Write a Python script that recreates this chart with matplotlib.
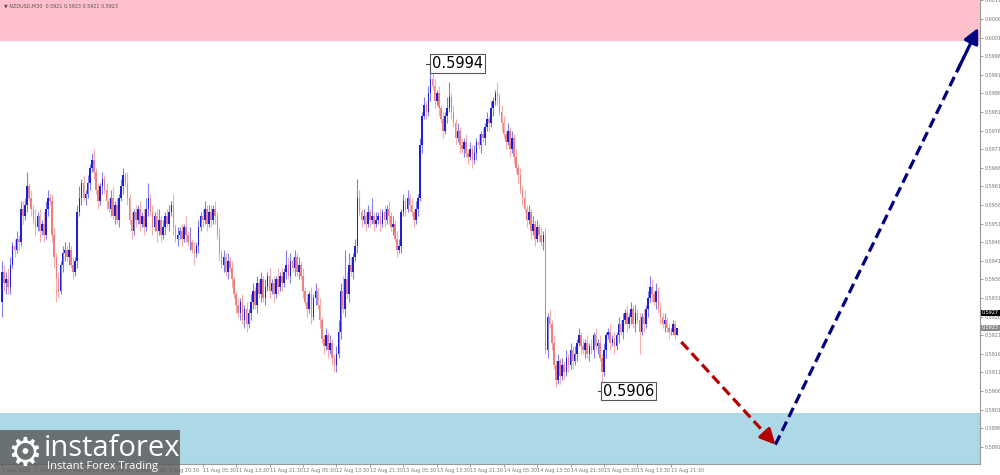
import matplotlib
matplotlib.use("Agg")
import matplotlib.pyplot as plt
from matplotlib.patches import Rectangle
from matplotlib.transforms import blended_transform_factory
import numpy as np

# ---------------- data (prices in pips above 0.5900) ----------------
first_open = 30
closes = [
    38, 35, 36, 34, 40, 45, 44, 47, 46, 55,
    53, 56, 61, 58, 55, 52, 50, 53, 49, 51,
    48, 55, 58, 57, 48, 42, 36, 33, 40, 43,
    44, 42, 44, 40, 38, 41, 54, 58, 62, 58,
    59, 62, 66, 68, 65, 60, 57, 61, 63, 60,
    57, 55, 58, 53, 56, 52, 58, 61, 64, 62,
    58, 52, 49, 54, 52, 55, 51, 53, 50, 55,
    58, 54, 50, 53, 49, 52, 48, 50, 53, 51,
    54, 56, 50, 47, 48, 49, 47, 50, 48, 46,
    46, 44, 43, 45, 50, 53, 52, 55, 51, 54,
    52, 55, 53, 48, 43, 40, 42, 38, 41, 39,
    36, 32, 29, 27, 30, 25, 28, 24, 27, 30,
    33, 29, 35, 32, 36, 31, 34, 37, 33, 35,
    32, 36, 34, 37, 35, 38, 40, 37, 41, 39,
    42, 38, 40, 37, 33, 30, 28, 32, 26, 31,
    33, 29, 25, 20, 18, 21, 17, 19, 15, 13,
    16, 22, 33, 28, 36, 32, 40, 38, 42, 45,
    58, 54, 52, 53, 51, 54, 52, 53, 51, 52,
    53, 51, 54, 52, 55, 53, 50, 51, 47, 44,
    45, 54, 57, 55, 58, 56, 54, 52, 55, 58,
    72, 80, 83, 81, 86, 90, 88, 84, 86, 82,
    79, 76, 80, 82, 85, 81, 78, 74, 76, 72,
    71, 73, 70, 69, 71, 68, 70, 73, 72, 75,
    74, 77, 79, 78, 82, 84, 86, 85, 81, 78,
    75, 73, 76, 71, 74, 69, 66, 64, 60, 58,
    55, 52, 54, 49, 51, 47, 50, 48, 46, 48,
    17, 26, 24, 19, 13, 9, 14, 10, 13, 11,
    15, 13, 17, 14, 16, 19, 21, 18, 17, 19,
    16, 18, 17, 21, 18, 19, 15, 11, 17, 21,
    22, 19, 20, 18, 21, 24, 22, 25, 27, 24,
    26, 28, 24, 27, 25, 22, 26, 24, 28, 31,
    34, 32, 30, 33, 28, 26, 24, 25, 23, 22,
    22, 24, 21, 23,
]
upper_wick = [
    3, 2, 2, 3, 2, 1, 2, 2, 1, 2,
    2, 2, 4, 1, 2, 1, 3, 1, 2, 1,
    3, 2, 2, 1, 2, 2, 1, 2, 1, 2,
    2, 1, 2, 1, 2, 1, 2, 3, 1, 2,
    1, 2, 1, 2, 3, 1, 2, 1, 2, 1,
    2, 1, 2, 3, 1, 2, 1, 2, 2, 1,
    3, 1, 2, 1, 2, 1, 2, 1, 2, 3,
    4, 1, 2, 1, 2, 3, 1, 2, 1, 2,
    2, 1, 3, 1, 2, 1, 2, 1, 3, 1,
    4, 1, 2, 1, 2, 1, 2, 2, 1, 2,
    2, 1, 2, 1, 2, 1, 2, 1, 2, 1,
    2, 1, 1, 2, 1, 2, 1, 2, 1, 2,
    2, 1, 2, 1, 2, 1, 2, 1, 2, 1,
    2, 1, 3, 1, 2, 1, 4, 2, 2, 1,
    2, 1, 2, 1, 2, 1, 2, 1, 2, 1,
    2, 1, 2, 1, 1, 2, 1, 2, 1, 1,
    2, 3, 2, 4, 8, 2, 3, 2, 1, 2,
    5, 2, 1, 2, 1, 2, 1, 5, 1, 2,
    1, 2, 1, 2, 1, 2, 1, 2, 1, 2,
    2, 1, 2, 1, 2, 1, 2, 1, 2, 1,
    2, 1, 2, 1, 2, 4, 2, 2, 1, 2,
    1, 2, 1, 3, 4, 1, 2, 1, 2, 1,
    2, 1, 2, 1, 2, 1, 2, 1, 2, 1,
    2, 1, 2, 1, 2, 1, 1, 3, 1, 2,
    2, 1, 2, 1, 2, 1, 2, 1, 2, 1,
    2, 1, 2, 1, 2, 1, 2, 1, 2, 1,
    2, 1, 2, 1, 2, 1, 2, 1, 2, 1,
    2, 1, 2, 1, 2, 1, 2, 1, 2, 1,
    2, 1, 2, 1, 2, 1, 2, 1, 2, 1,
    1, 2, 1, 2, 1, 2, 1, 2, 1, 2,
    1, 2, 1, 2, 1, 2, 1, 2, 1, 2,
    3, 2, 1, 2, 1, 2, 1, 2, 1, 1,
    1, 1, 1, 0,
]
lower_wick = [
    4, 2, 3, 2, 2, 1, 2, 1, 2, 1,
    2, 1, 2, 1, 2, 1, 2, 1, 3, 1,
    2, 1, 2, 1, 2, 3, 6, 2, 1, 2,
    2, 1, 2, 1, 2, 1, 2, 1, 2, 1,
    2, 1, 2, 1, 2, 1, 2, 1, 2, 1,
    2, 1, 2, 1, 2, 1, 2, 1, 2, 1,
    2, 1, 2, 1, 2, 1, 2, 1, 2, 1,
    2, 1, 2, 1, 3, 1, 2, 1, 2, 1,
    2, 1, 2, 1, 2, 1, 2, 1, 2, 1,
    2, 1, 3, 1, 2, 1, 2, 1, 2, 1,
    2, 1, 2, 1, 2, 1, 2, 1, 2, 1,
    2, 1, 2, 1, 2, 1, 2, 2, 1, 2,
    2, 1, 2, 1, 2, 1, 2, 1, 2, 1,
    2, 1, 2, 1, 2, 1, 2, 1, 2, 1,
    2, 1, 2, 1, 2, 1, 2, 1, 2, 1,
    2, 1, 2, 1, 2, 1, 2, 1, 2, 2,
    2, 1, 2, 1, 2, 1, 2, 1, 2, 1,
    2, 1, 2, 1, 2, 1, 2, 1, 2, 1,
    1, 2, 1, 2, 1, 2, 1, 2, 1, 2,
    1, 2, 1, 2, 1, 2, 1, 2, 1, 2,
    1, 2, 1, 2, 1, 2, 1, 2, 1, 2,
    1, 2, 1, 2, 1, 2, 1, 2, 1, 2,
    1, 2, 1, 2, 1, 2, 1, 2, 1, 2,
    1, 2, 1, 2, 1, 2, 1, 2, 1, 2,
    1, 2, 1, 2, 1, 2, 1, 2, 1, 2,
    1, 2, 1, 2, 1, 2, 1, 2, 1, 2,
    1, 2, 1, 2, 1, 2, 1, 2, 1, 2,
    1, 2, 1, 2, 1, 2, 1, 2, 1, 2,
    1, 2, 1, 2, 1, 2, 1, 5, 1, 2,
    1, 2, 1, 2, 1, 2, 1, 2, 1, 2,
    1, 2, 1, 2, 1, 6, 1, 2, 1, 2,
    1, 2, 1, 2, 1, 2, 1, 2, 1, 2,
    1, 1, 1, 0,
]
x_tick_labels = ["7 Aug 2025", "7 Aug 12:30", "7 Aug 20:30", "8 Aug 04:30", "8 Aug 12:30",
                 "8 Aug 20:30", "11 Aug 05:30", "11 Aug 13:30", "11 Aug 21:30", "12 Aug 05:30",
                 "12 Aug 13:30", "12 Aug 21:30", "13 Aug 05:30", "13 Aug 13:30", "13 Aug 21:30",
                 "14 Aug 05:30", "14 Aug 13:30", "14 Aug 21:30", "15 Aug 05:30", "15 Aug 13:30",
                 "15 Aug 21:30"]
bars_per_label = 16
resistance_zone = (0.6000, 0.6020)
support_zone = (0.5850, 0.5900)
high_label = ("0.5994", 205, 0.5994)
low_label = ("0.5906", 287, 0.5906)
arrow_down = [(325, 0.59192), (370, 0.58916)]
arrow_up = [(370, 0.58916), (467, 0.60036)]
price_marks = [("0.5927", 0.5927, "black", "white"), ("0.5923", 0.5923, "#8a8a8a", "white")]
header = "\u25BC NZDUSD,M30  0.5921 0.5923 0.5921 0.5923"

# ---------------- derived ----------------
base = 0.5900
c = base + np.array(closes) / 10000.0
o = np.concatenate([[base + first_open / 10000.0], c[:-1]])
h = np.maximum(o, c) + np.array(upper_wick) / 10000.0
l = np.minimum(o, c) - np.array(lower_wick) / 10000.0
idx = np.arange(len(c))

SMALL = 3.5

fig = plt.figure(figsize=(10, 4.75), dpi=100)
ax = fig.add_axes([0.0, 11 / 475, 0.98, 464 / 475])
ax.set_xlim(-0.96, 467.9)
ax.set_ylim(0.58864, 0.60111)

# zones
ax.axhspan(*resistance_zone, color="#ffc0cb", zorder=0, lw=0)
ax.axhspan(*support_zone, color="#add8e6", zorder=0, lw=0)

bull = c >= o
bear = ~bull
ax.vlines(idx[bull], l[bull], h[bull], color="#8080ee", lw=0.8, zorder=2)
ax.vlines(idx[bear], l[bear], h[bear], color="#f3aeae", lw=0.8, zorder=2)
ax.bar(idx[bull], (c - o)[bull], bottom=o[bull], width=0.75, color="#1f1fd8", lw=0, zorder=3)
ax.bar(idx[bear], (o - c)[bear], bottom=c[bear], width=0.75, color="#ef8080", lw=0, zorder=3)

# labels for extremes
for txt, xi, yv in [high_label, low_label]:
    ax.plot([xi - 2.0, xi], [yv, yv], color="#444444", lw=0.8, zorder=4)
    ax.text(xi + 0.6, yv, txt, fontsize=10.5, ha="left", va="center", color="black", zorder=5,
            bbox=dict(boxstyle="square,pad=0.12", fc="white", ec="#555555", lw=0.8))

# arrows
def dashed_arrow(pts, color):
    (x0, y0), (x1, y1) = pts
    ax.plot([x0, x0 + (x1 - x0) * 0.93], [y0, y0 + (y1 - y0) * 0.93], color=color, lw=2.3,
            dashes=(3.2, 1.6), zorder=6, solid_capstyle="butt", dash_capstyle="butt")
    ax.annotate("", xy=(x1, y1), xytext=(x0 + (x1 - x0) * 0.9, y0 + (y1 - y0) * 0.9),
                arrowprops=dict(arrowstyle="-|>,head_length=0.9,head_width=0.45", color=color,
                                lw=2.3, shrinkA=0, shrinkB=0), zorder=7)

dashed_arrow(arrow_down, "#b40000")
dashed_arrow(arrow_up, "#000080")

# axes styling
for s in ["top", "left"]:
    ax.spines[s].set_visible(False)
ax.spines["right"].set_color("#9a9a9a")
ax.spines["bottom"].set_color("#9a9a9a")
ax.spines["right"].set_linewidth(0.8)
ax.spines["bottom"].set_linewidth(0.8)
ax.yaxis.tick_right()
yt = np.round(np.arange(0.5891, 0.60111, 0.0005), 4)
ax.set_yticks(yt)
ax.set_yticklabels([f"{v:.4f}" for v in yt])
ax.tick_params(axis="y", labelsize=SMALL, colors="#777777", length=2, pad=1, width=0.5)
xt = np.arange(len(x_tick_labels)) * bars_per_label
ax.set_xticks(xt)
ax.set_xticklabels(x_tick_labels, ha="left")
ax.tick_params(axis="x", labelsize=SMALL, colors="#777777", length=2, pad=1, width=0.5)

trans = blended_transform_factory(ax.transAxes, ax.transData)
for txt, yv, fc, tc in price_marks:
    ax.text(1.002, yv, txt, transform=trans, fontsize=SMALL, color=tc, ha="left", va="center",
            bbox=dict(boxstyle="square,pad=0.12", fc=fc, ec="none"), clip_on=False, zorder=8)

ax.text(0.004, 0.992, header, transform=ax.transAxes, fontsize=SMALL, color="#555555",
        ha="left", va="top")

# logo block
fig.patches.append(Rectangle((0, 0), 0.18, 45 / 475, transform=fig.transFigure,
                             fc="#5a5a5a", ec="none", alpha=0.82, zorder=20))
fig.text(0.025, 21 / 475, "\u2699", fontsize=28, color="white", ha="center", va="center",
         zorder=21)
fig.text(0.044, 27 / 475, "instaforex", fontsize=21, color="white", ha="left", va="center",
         family="Open Sans", zorder=21)
fig.text(0.047, 8 / 475, "Instant Forex Trading", fontsize=8, color="white", ha="left",
         va="center", family="Open Sans", zorder=21)

fig.savefig("out.png", dpi=100)
